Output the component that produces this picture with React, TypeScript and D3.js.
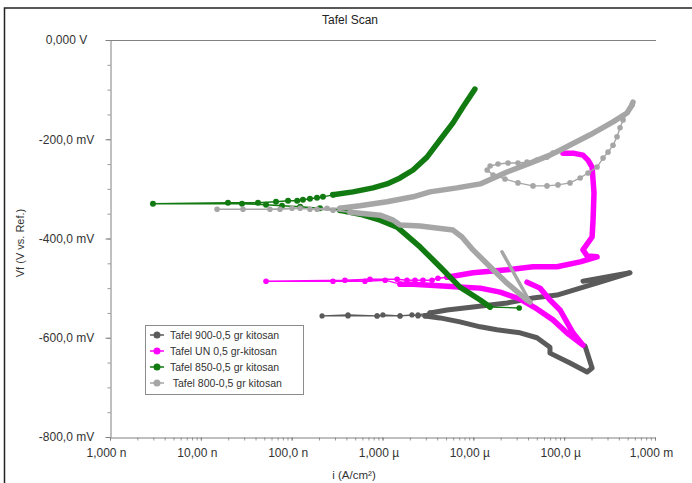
import * as React from "react";
import * as d3 from "d3";

type Pt = [number, number]; // [current A/cm², potential V]

// axis ticks
const xTickValues = [1e-9, 1e-8, 1e-7, 1e-6, 1e-5, 1e-4, 1e-3];
const xTickLabels = ["1,000 n", "10,00 n", "100,0 n", "1,000 µ", "10,00 µ", "100,0 µ", "1,000 m"];
const yTickValues = [0, -0.2, -0.4, -0.6, -0.8];
const yTickLabels = ["0,000 V", "-200,0 mV", "-400,0 mV", "-600,0 mV", "-800,0 mV"];

const seriesNames = [
    "Tafel 900-0,5 gr kitosan",
    "Tafel UN 0,5 gr-kitosan",
    "Tafel 850-0,5 gr kitosan",
    " Tafel 800-0,5 gr kitosan",
];

// Tafel 900 (dark gray)
const t900Cathodic: Pt[] = [
    [1.70e-4, -0.617], [2.03e-4, -0.661], [1.79e-4, -0.669], [1.16e-4, -0.651], [6.98e-5, -0.631],
    [6.98e-5, -0.619], [5.02e-5, -0.600], [3.27e-5, -0.590], [1.82e-5, -0.584], [1.19e-5, -0.578],
    [7.13e-6, -0.568], [4.29e-6, -0.560], [2.94e-6, -0.556],
];
const t900Ecorr: Pt[] = [
    [2.94e-6, -0.556], [2.46e-6, -0.556], [2.11e-6, -0.554], [1.56e-6, -0.556], [1.01e-6, -0.554],
    [8.71e-7, -0.556], [4.17e-7, -0.554], [2.16e-7, -0.556], [4.17e-7, -0.556], [8.71e-7, -0.556],
    [1.56e-6, -0.556], [2.46e-6, -0.554], [3.33e-6, -0.550],
];
const t900Anodic: Pt[] = [
    [3.33e-6, -0.550], [5.13e-6, -0.544], [9.92e-6, -0.538], [2.35e-5, -0.530], [4.54e-5, -0.520],
    [8.33e-5, -0.514], [1.50e-4, -0.500], [2.48e-4, -0.488], [5.31e-4, -0.469], [1.61e-4, -0.486],
];

// Tafel UN (magenta)
const tUNCathodic: Pt[] = [
    [3.90e-5, -0.488], [5.42e-5, -0.500], [6.98e-5, -0.524], [8.99e-5, -0.544], [1.25e-4, -0.590],
    [1.61e-4, -0.615], [1.07e-4, -0.590], [7.53e-5, -0.564], [5.02e-5, -0.542], [3.27e-5, -0.522],
    [1.97e-5, -0.508], [1.19e-5, -0.500], [7.69e-6, -0.498], [5.13e-6, -0.496], [3.33e-6, -0.494],
    [2.17e-6, -0.492], [1.56e-6, -0.492],
];
const tUNEcorr: Pt[] = [
    [1.56e-6, -0.492], [1.07e-6, -0.484], [6.41e-7, -0.486], [2.85e-7, -0.486], [5.22e-8, -0.486],
    [3.86e-7, -0.484], [7.28e-7, -0.482], [1.45e-6, -0.482], [1.86e-6, -0.484], [2.28e-6, -0.484],
    [2.79e-6, -0.484], [3.51e-6, -0.484], [4.08e-6, -0.480], [5.13e-6, -0.478],
];
const tUNAnodic: Pt[] = [
    [5.13e-6, -0.478], [9.92e-6, -0.469], [2.35e-5, -0.463], [4.54e-5, -0.457], [8.33e-5, -0.457],
    [1.50e-4, -0.447], [2.30e-4, -0.437], [1.79e-4, -0.435], [1.61e-4, -0.423], [2.03e-4, -0.397],
    [2.08e-4, -0.363], [2.13e-4, -0.308], [2.03e-4, -0.256], [1.83e-4, -0.242], [1.61e-4, -0.232],
    [1.25e-4, -0.228], [9.70e-5, -0.228],
];

// Tafel 850 (green)
const t850Tail: Pt[] = [[3.2e-5, -0.540], [1.53e-5, -0.538]];
const t850Cathodic: Pt[] = [
    [1.53e-5, -0.538], [1.19e-5, -0.524], [7.13e-6, -0.498], [4.29e-6, -0.457], [2.59e-6, -0.417],
    [1.45e-6, -0.377], [9.4e-7, -0.363], [5.65e-7, -0.351], [3.40e-7, -0.343],
];
const t850Ecorr: Pt[] = [
    [3.40e-7, -0.343], [2.05e-7, -0.339], [1.24e-7, -0.336], [7.83e-8, -0.334], [5.22e-8, -0.332],
    [2.84e-8, -0.330], [2.97e-9, -0.330], [1.99e-8, -0.328], [4.26e-8, -0.328], [6.72e-8, -0.326],
    [9.12e-8, -0.324], [1.15e-7, -0.324], [1.33e-7, -0.322], [1.59e-7, -0.320], [1.90e-7, -0.318],
    [2.21e-7, -0.316], [2.85e-7, -0.312],
];
const t850Anodic: Pt[] = [
    [2.85e-7, -0.312], [4.73e-7, -0.306], [7.86e-7, -0.298], [1.12e-6, -0.290], [1.56e-6, -0.278],
    [2.17e-6, -0.262], [3.09e-6, -0.236], [4.29e-6, -0.2015], [5.97e-6, -0.167], [7.69e-6, -0.135],
    [1.04e-5, -0.099],
];

// Tafel 800 (light gray)
const t800Spike: Pt[] = [[2.07e-5, -0.427], [4.21e-5, -0.528]];
const t800Cathodic: Pt[] = [
    [4.21e-5, -0.528], [3.90e-5, -0.524], [2.35e-5, -0.490], [1.53e-5, -0.457], [9.92e-6, -0.423],
    [7.50e-6, -0.397], [5.97e-6, -0.383], [2.59e-6, -0.375], [1.56e-6, -0.373], [1.31e-6, -0.363],
    [9.4e-7, -0.353], [4.38e-7, -0.347],
];
const t800Ecorr: Pt[] = [
    [4.38e-7, -0.347], [2.85e-7, -0.343], [1.90e-7, -0.341], [1.01e-7, -0.339], [5.77e-8, -0.341],
    [1.51e-8, -0.341], [2.91e-8, -0.341], [7.44e-8, -0.341], [1.24e-7, -0.339], [1.59e-7, -0.341],
    [2.45e-7, -0.339], [3.40e-7, -0.339],
];
const t800Anodic: Pt[] = [
    [3.40e-7, -0.339], [5.65e-7, -0.334], [1.12e-6, -0.326], [2.17e-6, -0.316], [3.33e-6, -0.306],
    [6.60e-6, -0.298], [1.19e-5, -0.290], [2.35e-5, -0.266], [4.21e-5, -0.248], [6.98e-5, -0.232],
    [8.99e-5, -0.222], [1.93e-4, -0.191], [3.45e-4, -0.165], [4.92e-4, -0.147], [5.58e-4, -0.131],
    [5.73e-4, -0.125],
];
const t800Return: Pt[] = [
    [5.58e-4, -0.131], [4.45e-4, -0.161], [4.12e-4, -0.177], [3.82e-4, -0.195], [3.45e-4, -0.212],
    [3.04e-4, -0.226], [2.68e-4, -0.238], [2.30e-4, -0.256], [1.83e-4, -0.268], [1.50e-4, -0.278],
    [1.16e-4, -0.288], [8.55e-5, -0.292], [6.47e-5, -0.294], [4.54e-5, -0.294], [3.10e-5, -0.288],
    [2.23e-5, -0.280], [1.65e-5, -0.272], [1.42e-5, -0.262], [1.53e-5, -0.254], [1.87e-5, -0.250],
    [2.41e-5, -0.248], [3.10e-5, -0.248], [3.90e-5, -0.246], [5.02e-5, -0.242], [6.47e-5, -0.236],
    [7.53e-5, -0.228],
];

const colors = ["#5a5a5a", "#ff00ff", "#117a11", "#a6a6a6"];

const font = "Arial, 'Liberation Sans', sans-serif";

export default function App() {
    const ref = React.useRef<SVGSVGElement>(null);

    React.useEffect(() => {
        const svg = d3.select(ref.current);
        svg.selectAll("*").remove();

        const x = d3.scaleLog().domain([1e-9, 1e-3]).range([110, 655]);
        const y = d3.scaleLinear().domain([-0.8, 0]).range([437, 40]);
        const line = d3.line<Pt>().x(d => x(d[0])).y(d => y(d[1]));

        // outer frame
        svg.append("path").attr("d", "M4.5,483 L4.5,8 L692,8")
            .attr("fill", "none").attr("stroke", "#222").attr("stroke-width", 1.5);

        svg.append("text").attr("x", 350).attr("y", 24).attr("text-anchor", "middle")
            .attr("font-family", font).attr("font-size", 12).attr("fill", "#222").text("Tafel Scan");

        // plot frame top line
        svg.append("line").attr("x1", 110).attr("x2", 656).attr("y1", 40.5).attr("y2", 40.5)
            .attr("stroke", "#808080");

        // y axis
        const yMinor = svg.append("g").attr("transform", "translate(110.5,0)")
            .call(d3.axisLeft(y).tickValues(y.ticks(16)).tickSize(3).tickFormat(() => "").tickSizeOuter(0));
        yMinor.selectAll("line").attr("stroke", "#999");
        yMinor.select(".domain").remove();
        const yAxis = svg.append("g").attr("transform", "translate(110.5,0)")
            .call(d3.axisLeft(y).tickValues(yTickValues).tickSize(5).tickSizeOuter(0)
                .tickFormat((_d, i) => yTickLabels[i]));
        yAxis.select(".domain").attr("stroke", "#808080");
        yAxis.selectAll("line").attr("stroke", "#808080");
        yAxis.selectAll("text").attr("font-family", font).attr("font-size", 12).attr("fill", "#333")
            .attr("text-anchor", "middle").attr("x", -44);

        // x axis
        const xMinor = svg.append("g").attr("transform", "translate(0,437.5)")
            .call(d3.axisBottom(x).tickValues(x.ticks()).tickSize(3).tickFormat(() => "").tickSizeOuter(0));
        xMinor.selectAll("line").attr("stroke", "#999");
        xMinor.select(".domain").remove();
        const xAxis = svg.append("g").attr("transform", "translate(0,437.5)")
            .call(d3.axisBottom(x).tickValues(xTickValues).tickSize(3).tickPadding(8).tickSizeOuter(0)
                .tickFormat((_d, i) => xTickLabels[i]));
        xAxis.select(".domain").attr("stroke", "#808080");
        xAxis.selectAll("line").attr("stroke", "#808080");
        xAxis.selectAll("text").attr("font-family", font).attr("font-size", 12).attr("fill", "#333")
            .attr("dx", -4);

        svg.append("text").attr("x", 354).attr("y", 479).attr("text-anchor", "middle")
            .attr("font-family", font).attr("font-size", 11.5).attr("fill", "#333").text("i (A/cm²)");
        svg.append("text").attr("transform", "translate(24,243) rotate(-90)").attr("text-anchor", "middle")
            .attr("font-family", font).attr("font-size", 11).attr("fill", "#333").text("Vf (V vs. Ref.)");

        const plot = svg.append("g");

        const dense = (pts: Pt[], color: string, w: number) => {
            plot.append("path").attr("d", line(pts) as string).attr("fill", "none")
                .attr("stroke", color).attr("stroke-width", w)
                .attr("stroke-linejoin", "round").attr("stroke-linecap", "round");
        };
        const sparse = (pts: Pt[], color: string, r: number) => {
            plot.append("path").attr("d", line(pts) as string).attr("fill", "none")
                .attr("stroke", color).attr("stroke-width", 1.4);
            plot.selectAll(null).data(pts).enter().append("circle")
                .attr("cx", d => x(d[0])).attr("cy", d => y(d[1])).attr("r", r).attr("fill", color);
        };

        // Tafel 900
        dense(t900Cathodic, colors[0], 5);
        sparse(t900Ecorr, colors[0], 2.6);
        dense(t900Anodic, colors[0], 5);

        // Tafel UN
        dense(tUNCathodic, colors[1], 5.5);
        sparse(tUNEcorr, colors[1], 2.8);
        dense(tUNAnodic, colors[1], 5.5);

        // Tafel 850
        sparse(t850Tail, colors[2], 2.8);
        dense(t850Cathodic, colors[2], 5.5);
        sparse(t850Ecorr, colors[2], 3);
        dense(t850Anodic, colors[2], 5.5);

        // Tafel 800
        dense(t800Spike, colors[3], 3.5);
        dense(t800Cathodic, colors[3], 5.5);
        sparse(t800Ecorr, colors[3], 2.8);
        dense(t800Anodic, colors[3], 5.5);
        sparse(t800Return, colors[3], 2.8);

        // legend
        const legend = svg.append("g").attr("font-family", font).attr("font-size", 10.5);
        legend.append("rect").attr("x", 145.5).attr("y", 325.5).attr("width", 158).attr("height", 69)
            .attr("fill", "#fff").attr("stroke", "#8c8c8c");
        const items = legend.selectAll("g.item").data(seriesNames).enter().append("g")
            .attr("class", "item")
            .attr("transform", (_d, i) => "translate(0," + (335 + i * 16) + ")");
        items.append("line").attr("x1", 150).attr("x2", 164).attr("y1", 0).attr("y2", 0)
            .attr("stroke", (_d, i) => colors[i]).attr("stroke-width", 1.5);
        items.append("circle").attr("cx", 157).attr("cy", 0).attr("r", 3.5)
            .attr("fill", (_d, i) => colors[i]);
        items.append("text").attr("x", 170).attr("y", 0).attr("dy", "0.35em")
            .attr("fill", "#333").attr("xml:space", "preserve").style("white-space", "pre")
            .text(d => d);
    }, []);

    return (
        <svg ref={ref} width={692} height={483}
            style={{ position: "absolute", left: 0, top: 0, background: "#fff" }} />
    );
}
